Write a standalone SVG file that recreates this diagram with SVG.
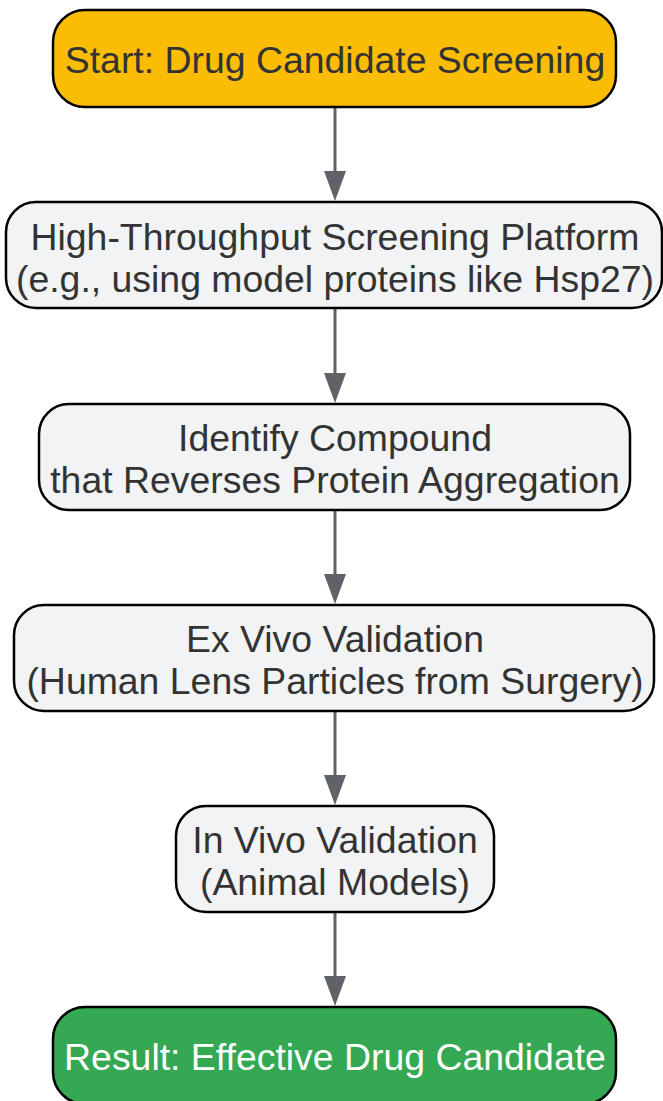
<svg xmlns="http://www.w3.org/2000/svg" width="663" height="1101" viewBox="0 0 663 1101">
<style>
.n{stroke:#000;stroke-width:2.5}
.g{fill:#f1f3f4}
.t{font-family:"Liberation Sans",Arial,sans-serif;font-size:37.4px;fill:#333;text-anchor:middle}
.w{fill:#fff}
.c{stroke:#5f6368;stroke-width:3;fill:none}
.h{fill:#5f6368}
</style>
<g id="connectors">
<line class="c" x1="335" y1="107" x2="335" y2="172"/>
<path class="h" d="M324,171 L346,171 L335,201 Z"/>
<line class="c" x1="335" y1="308" x2="335" y2="374"/>
<path class="h" d="M324,373 L346,373 L335,403 Z"/>
<line class="c" x1="335" y1="510" x2="335" y2="575"/>
<path class="h" d="M324,574 L346,574 L335,604 Z"/>
<line class="c" x1="335" y1="711" x2="335" y2="776"/>
<path class="h" d="M324,775 L346,775 L335,805 Z"/>
<line class="c" x1="335" y1="912" x2="335" y2="977"/>
<path class="h" d="M324,976 L346,976 L335,1006 Z"/>
</g>
<g id="start">
<rect class="n" x="53" y="10" width="563" height="97" rx="32" fill="#fbbc04"/>
<text class="t" x="335" y="73">Start: Drug Candidate Screening</text>
</g>
<g id="hts">
<rect class="n g" x="6" y="202" width="656" height="106" rx="30"/>
<text class="t" x="335" y="250">High-Throughput Screening Platform</text>
<text class="t" x="335" y="292">(e.g., using model proteins like Hsp27)</text>
</g>
<g id="identify">
<rect class="n g" x="39" y="404" width="591" height="106" rx="30"/>
<text class="t" x="335" y="451">Identify Compound</text>
<text class="t" x="335" y="493">that Reverses Protein Aggregation</text>
</g>
<g id="exvivo">
<rect class="n g" x="14" y="605" width="640" height="106" rx="30"/>
<text class="t" x="335" y="652">Ex Vivo Validation</text>
<text class="t" x="335" y="694">(Human Lens Particles from Surgery)</text>
</g>
<g id="invivo">
<rect class="n g" x="176" y="806" width="318" height="106" rx="30"/>
<text class="t" x="335" y="853">In Vivo Validation</text>
<text class="t" x="335" y="895">(Animal Models)</text>
</g>
<g id="result">
<rect class="n" x="53" y="1007" width="563" height="97" rx="32" fill="#34a853"/>
<text class="t w" x="335" y="1070">Result: Effective Drug Candidate</text>
</g>
</svg>
